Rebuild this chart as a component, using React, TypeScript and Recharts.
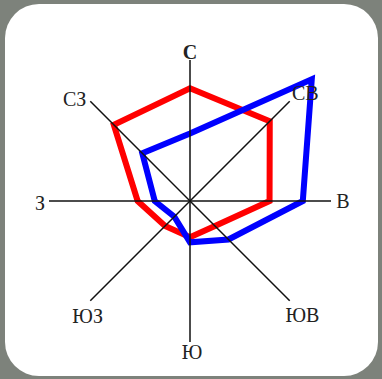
import React from 'react';
import { RadarChart, Radar, PolarGrid, PolarAngleAxis, PolarRadiusAxis } from 'recharts';

const directions = ['С', 'СВ', 'В', 'ЮВ', 'Ю', 'ЮЗ', 'З', 'СЗ'];
const redValues = [11.2, 11.2, 7.9, 3.5, 3.6, 3.5, 5.2, 10.7];
const blueValues = [6.7, 17.1, 11.2, 5.4, 4.1, 2.2, 3.5, 6.7];
const radiusMax = 14;

const data = directions.map((dir, i) => ({ dir, red: redValues[i], blue: blueValues[i] }));

const labelShift: Record<string, [number, number]> = {
  'С': [0, 0],
  'СВ': [10, -3],
  'В': [4, 0],
  'ЮВ': [7, 9],
  'Ю': [2, 2],
  'ЮЗ': [3, 10],
  'З': [-1, 2],
  'СЗ': [-10, 3],
};

const W = 382;
const H = 379;
const CX = 190;
const CY = 201;
const R = 141;

const Tick = (props: any) => {
  const { x, y, payload } = props;
  const v = payload.value as string;
  const s = labelShift[v] || [0, 0];
  return (
    <text
      x={x + s[0]}
      y={y + s[1]}
      textAnchor="middle"
      dominantBaseline="central"
      fontFamily="'Liberation Serif', 'DejaVu Serif', serif"
      fontSize={20}
      fontWeight={v === 'С' ? 'bold' : 'normal'}
      fill="#222222"
    >
      {v}
    </text>
  );
};

export default function App() {
  return (
    <div style={{ position: 'absolute', left: 0, top: 0, width: W, height: H, background: '#7d827b', overflow: 'hidden' }}>
      <div style={{ position: 'absolute', left: 5, top: 4, width: 373, height: 372, background: '#ffffff', borderRadius: 34 }} />
      <div style={{ position: 'absolute', left: 0, top: 0 }}>
        <RadarChart width={W} height={H} data={data} cx={CX} cy={CY} outerRadius={R} margin={{ top: 0, right: 0, bottom: 0, left: 0 }}>
          <PolarAngleAxis dataKey="dir" axisLine={false} tickLine={false} tick={<Tick />} />
          <PolarRadiusAxis domain={[0, radiusMax]} allowDataOverflow tick={false} axisLine={false} />
          <Radar dataKey="red" stroke="#ff0000" strokeWidth={6} fill="none" fillOpacity={0} isAnimationActive={false} dot={false} />
          <Radar dataKey="blue" stroke="#0000ff" strokeWidth={6} fill="none" fillOpacity={0} isAnimationActive={false} dot={false} />
        </RadarChart>
      </div>
      <div style={{ position: 'absolute', left: 0, top: 0 }}>
        <RadarChart width={W} height={H} data={data} cx={CX} cy={CY} outerRadius={R} margin={{ top: 0, right: 0, bottom: 0, left: 0 }}>
          <PolarGrid gridType="polygon" polarRadius={[]} radialLines stroke="#111111" strokeWidth={1.5} />
          <PolarAngleAxis dataKey="dir" axisLine={false} tickLine={false} tick={false} />
          <PolarRadiusAxis domain={[0, radiusMax]} tick={false} axisLine={false} />
          <Radar dataKey="red" stroke="none" fill="none" fillOpacity={0} isAnimationActive={false} dot={false} />
        </RadarChart>
      </div>
    </div>
  );
}
